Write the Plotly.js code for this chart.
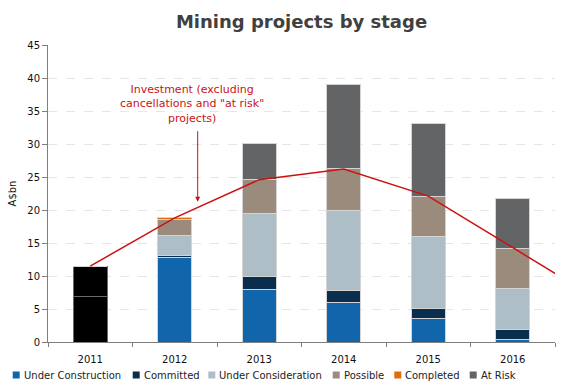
<!DOCTYPE html>
<html>
<head>
<meta charset="utf-8">
<script src="https://cdn.plot.ly/plotly-3.0.1.min.js"></script>
<style>html,body{margin:0;padding:0;background:#fff;}#chart{width:572px;height:389px;}</style>
</head>
<body>
<div id="chart"></div>
<script>
// ---- Data (A$bn) ----
var years = ["2011", "2012", "2013", "2014", "2015", "2016"];
var actual2011Lower = [6.9, 0, 0, 0, 0, 0];
var actual2011Upper = [4.6, 0, 0, 0, 0, 0];
var underConstruction = [0, 12.8, 8.0, 6.05, 3.6, 0.35];
var committed = [0, 0.3, 1.9, 1.75, 1.55, 1.5];
var underConsideration = [0, 3.05, 9.55, 12.1, 10.8, 6.2];
var possible = [0, 2.45, 5.1, 6.4, 6.05, 6.05];
var completed = [0, 0.2, 0, 0, 0, 0];
var atRisk = [0, 0, 5.5, 12.7, 11.1, 7.6];
var investmentYears = ["2011", "2012", "2013", "2014", "2015", "2016", "2017"];
var investment = [11.5, 18.8, 24.6, 26.2, 22.1, 14.2, 6.5];
var yTicks = [0, 5, 10, 15, 20, 25, 30, 35, 40, 45];

// ---- Layout constants ----
var W = 572, H = 389;
var M = {l: 48, r: 17, t: 45, b: 47};
var PW = W - M.l - M.r, PH = H - M.t - M.b;
function px2paperX(px) { return (px - M.l) / PW; }
function px2paperY(py) { return (H - M.b - py) / PH; }

var FONT = "DejaVu Sans, Verdana, sans-serif";
var edge = {color: "#d4d4d4", width: 1};

var series = [
  {name: "Under Construction", y: underConstruction, color: "#1166ab"},
  {name: "Committed", y: committed, color: "#0b2e4f"},
  {name: "Under Consideration", y: underConsideration, color: "#adbec6"},
  {name: "Possible", y: possible, color: "#9b8b7d"},
  {name: "Completed", y: completed, color: "#e36c0a"},
  {name: "At Risk", y: atRisk, color: "#636466"}
];

var traces = [
  {type: "bar", x: years, y: actual2011Lower, marker: {color: "#000000", line: {color: "#6a6a6a", width: 1}}, showlegend: false, hoverinfo: "skip"},
  {type: "bar", x: years, y: actual2011Upper, marker: {color: "#000000", line: {color: "#6a6a6a", width: 1}}, showlegend: false, hoverinfo: "skip"}
];
series.forEach(function (s) {
  traces.push({type: "bar", name: s.name, x: years, y: s.y, marker: {color: s.color, line: edge}, showlegend: false});
});
traces.push({
  type: "scatter", mode: "lines", name: "Investment", x: investmentYears, y: investment,
  line: {color: "#cc1111", width: 1.5}, showlegend: false
});

// Custom legend (square + text) positioned along the bottom
var legendX = [12.7, 132.7, 208.3, 332.7, 394.3, 469.7];
var legendY = 375;
var shapes = [], annotations = [];
series.forEach(function (s, i) {
  var x0 = legendX[i];
  shapes.push({
    type: "rect", xref: "paper", yref: "paper",
    x0: px2paperX(x0), x1: px2paperX(x0 + 7),
    y0: px2paperY(legendY + 3.5), y1: px2paperY(legendY - 3.5),
    fillcolor: s.color, line: {width: 0}
  });
  annotations.push({
    xref: "paper", yref: "paper", x: px2paperX(x0 + 9), y: px2paperY(legendY),
    xanchor: "left", yanchor: "middle", showarrow: false,
    text: s.name, font: {family: FONT, size: 10, color: "#222222"}
  });
});

// Investment annotation text and arrow
annotations.push({
  xref: "paper", yref: "paper", x: px2paperX(191.7), y: px2paperY(104),
  xanchor: "center", yanchor: "middle", showarrow: false,
  text: "Investment (excluding<br>cancellations and \"at risk\"<br>projects)",
  font: {family: FONT, size: 11, color: "#cc1111"}
});
annotations.push({
  xref: "paper", yref: "paper", x: px2paperX(197.7), y: px2paperY(201.7),
  ax: 0, ay: -72, text: "", showarrow: true,
  arrowhead: 2, arrowsize: 1, arrowwidth: 1, arrowcolor: "#cc1111"
});

var layout = {
  width: W, height: H,
  margin: M,
  paper_bgcolor: "#ffffff", plot_bgcolor: "#ffffff",
  barmode: "stack", bargap: 0.6,
  title: {
    text: "<b>Mining projects by stage</b>",
    x: 0.5, xref: "paper", y: 1 - 22 / H, yanchor: "middle",
    font: {family: FONT, size: 18, color: "#404040"}
  },
  font: {family: FONT, size: 10, color: "#222222"},
  xaxis: {
    type: "category", categoryorder: "array", categoryarray: investmentYears,
    range: [-0.5, 5.5], tickvals: years,
    tickson: "boundaries", ticks: "outside", ticklen: 4, tickcolor: "#7f7f7f",
    ticklabelstandoff: 8,
    showline: true, linecolor: "#7f7f7f", linewidth: 1,
    showgrid: false, zeroline: false,
    tickfont: {family: FONT, size: 10, color: "#111111"}
  },
  yaxis: {
    range: [0, 45], tickvals: yTicks,
    ticks: "outside", ticklen: 5, tickcolor: "#7f7f7f",
    showline: true, linecolor: "#7f7f7f", linewidth: 1,
    showgrid: true, gridcolor: "#e6e6e6", griddash: "dash", gridwidth: 1,
    zeroline: false,
    tickfont: {family: FONT, size: 10, color: "#111111"},
    title: {text: "A&#36;bn", font: {family: FONT, size: 10, color: "#111111"}, standoff: 8}
  },
  shapes: shapes,
  annotations: annotations
};

Plotly.newPlot("chart", traces, layout, {displayModeBar: false, staticPlot: true});
</script>
</body>
</html>
